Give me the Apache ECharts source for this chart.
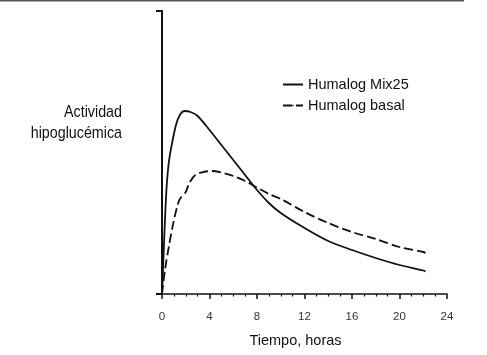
<!DOCTYPE html>
<html>
<head>
<meta charset="utf-8">
<script src="https://cdn.jsdelivr.net/npm/echarts@6/dist/echarts.min.js"></script>
<style>
html,body{margin:0;padding:0;background:#fff;}
#chart{width:487px;height:355px;}
</style>
</head>
<body>
<div id="chart"></div>
<script>
// Hours after injection and relative hypoglycaemic activity (arbitrary units)
const mixHours   = [0, 0.1, 0.25, 0.4, 0.6, 0.9, 1.2, 1.5, 1.9, 2.4, 3.0, 4, 5, 6, 7, 8, 9, 10, 12, 14, 16, 18, 20, 22, 22.2];
const mixValues  = [0, 29, 74, 109, 134, 154, 170, 179, 183, 182, 178, 164, 149, 134, 119, 104, 91, 81, 66, 53, 44, 36, 29, 23.5, 22.5];
const basalHours = [0, 0.25, 0.6, 0.95, 1.25, 1.5, 2.0, 2.3, 2.8, 3.5, 4.2, 5, 6, 7, 8, 9, 10, 12, 14, 16, 18, 20, 22, 22.2];
const basalValues= [0, 24, 49, 71, 86, 95, 102, 111, 119, 122, 123, 121.5, 118, 113, 106.5, 100, 95, 82, 71, 62, 55, 47, 42, 41];
const seriesNames = ['Humalog Mix25', 'Humalog basal'];
const xTicks = [0, 4, 8, 12, 16, 20, 24];
const xTitle = 'Tiempo, horas';
const yTitle = 'Actividad\nhipoglucémica';

const FONT = "'Liberation Sans', Arial, Helvetica, sans-serif";
const pair = (xs, ys) => xs.map((x, i) => [x, ys[i]]);

const chart = echarts.init(document.getElementById('chart'), null, {renderer: 'canvas'});
chart.setOption({
  animation: false,
  backgroundColor: '#fff',
  grid: {left: 162, right: 40, top: 11, bottom: 61},
  legend: {
    orient: 'vertical',
    left: 282, top: 77, padding: 0,
    itemWidth: 20, itemHeight: 2, itemGap: 6,
    textStyle: {fontFamily: FONT, fontSize: 14.5, color: '#111'},
    data: seriesNames
  },
  xAxis: {
    type: 'value', min: xTicks[0], max: xTicks[xTicks.length - 1], interval: 4,
    offset: 8,
    name: xTitle, nameLocation: 'middle', nameGap: 31,
    nameTextStyle: {fontFamily: FONT, fontSize: 14.5, color: '#111', padding: [0, 18, 0, 0]},
    axisLine: {show: true, lineStyle: {color: '#111', width: 1.5}},
    axisTick: {show: true, length: 5, lineStyle: {color: '#111', width: 1.5}},
    minorTick: {show: true, splitNumber: 4, length: 2.5, lineStyle: {color: '#111', width: 1.2}},
    axisLabel: {fontFamily: FONT, fontSize: 11.5, color: '#333', margin: 9},
    splitLine: {show: false}
  },
  yAxis: {
    type: 'value', min: 0, max: 283, interval: 283,
    offset: 9,
    axisLine: {show: true, lineStyle: {color: '#111', width: 2}},
    axisTick: {show: true, length: 6, lineStyle: {color: '#111', width: 2}},
    axisLabel: {show: false},
    splitLine: {show: false}
  },
  graphic: [
    {type: 'line', shape: {x1: 0, y1: 0.5, x2: 464, y2: 0.5}, style: {stroke: '#555', lineWidth: 2}},
    {type: 'text', x: 122, y: 122.5, scaleX: 0.84,
     style: {text: yTitle, fontFamily: FONT, fontSize: 17, lineHeight: 21, fill: '#111',
             align: 'right', verticalAlign: 'middle'}}
  ],
  series: [
    {
      name: seriesNames[0], type: 'line', data: pair(mixHours, mixValues),
      symbol: 'none', smooth: 0.3,
      legendIcon: 'path://M0,0H20V1.5H0Z',
      lineStyle: {color: '#111', width: 1.8, type: 'solid'},
      itemStyle: {color: '#111'}
    },
    {
      name: seriesNames[1], type: 'line', data: pair(basalHours, basalValues),
      symbol: 'none', smooth: 0.3,
      legendIcon: 'path://M0,0H7V1.5H0ZM11,0H20V1.5H11Z',
      lineStyle: {color: '#111', width: 1.8, type: [9, 4]},
      itemStyle: {color: '#111'}
    }
  ]
});
</script>
</body>
</html>
